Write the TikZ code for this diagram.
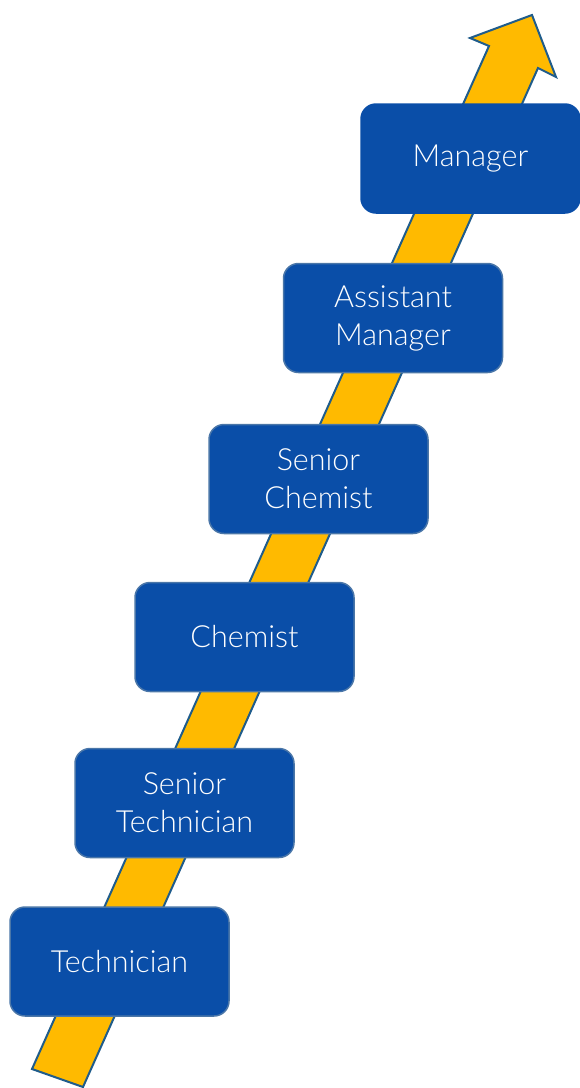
\documentclass[tikz,border=0pt]{standalone}
\usepackage{fontspec}
\newfontfamily\boxfont{Lato Light}
\usepackage{tikz}

\definecolor{stepblue}{HTML}{0A4EA8}
\definecolor{stepline}{HTML}{4A76A8}
\definecolor{arrowgold}{HTML}{FFBA00}
\definecolor{arrowline}{HTML}{1F5C8B}

\begin{document}
\begin{tikzpicture}
		[x=1pt,y=-1pt,every node/.style={rectangle,rounded corners=15pt,fill=stepblue,draw=stepline,line width=1.5pt,minimum width=219pt,minimum height=109pt,inner sep=0pt,align=center,text=white,font=\boxfont\fontsize{30.5}{38}\selectfont},ladder/.style={fill=arrowgold,draw=arrowline,line width=2pt,line join=miter}]
		\useasboundingbox (0,0) rectangle (580,1088);
		
		\draw[ladder] (32,1069) -- (83,1087) -- (538,68) -- (556,77) -- (532,15) -- (470,38) -- (489,46) -- cycle;
		
		\node (n6) at (470.5,158.5) [draw=stepblue] {Manager};
		\node (n5) at (393,318) {Assistant\\Manager};
		\node (n4) at (318.5,479) {Senior\\Chemist};
		\node (n3) at (244.5,637) {Chemist};
		\node (n2) at (184.5,803) {Senior\\Technician};
		\node (n1) at (119.5,961.5) {Technician};
		\end{tikzpicture}
\end{document}
